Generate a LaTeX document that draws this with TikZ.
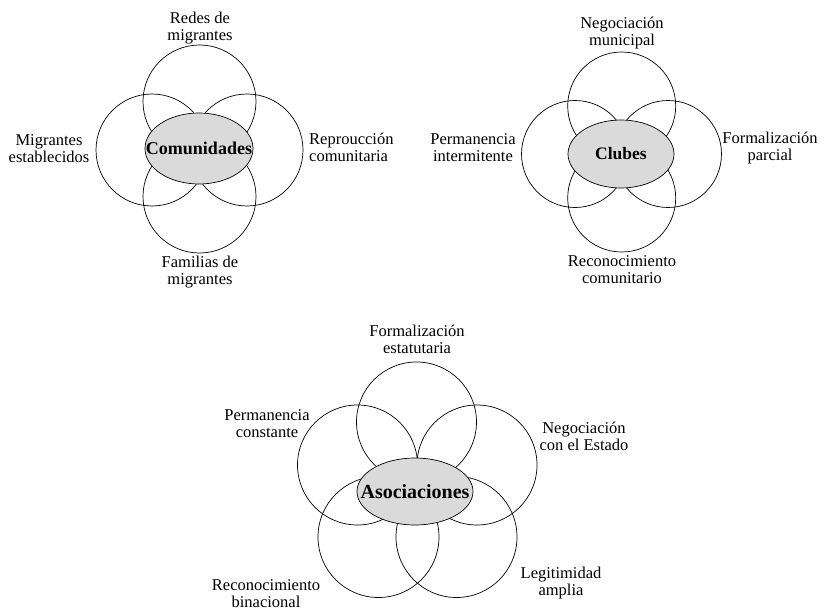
\documentclass[tikz,border=0pt]{standalone}
\usepackage{fontspec}
\setmainfont{Liberation Serif}
\usetikzlibrary{shapes.geometric}
\definecolor{ellgray}{HTML}{DADADA}
\tikzset{
  petal/.style={circle, draw=black, line width=0.7pt, inner sep=0pt},
  hub/.style={ellipse, draw=black, line width=0.7pt, fill=ellgray, inner sep=0pt},
  hubtext/.style={font=\bfseries, inner sep=0pt},
  lbl/.style={align=center, inner sep=0pt, font=\fontsize{16.5}{17}\selectfont},
  lbll/.style={align=left, inner sep=0pt, font=\fontsize{16.5}{17}\selectfont}
}
\begin{document}
\begin{tikzpicture}[x=1pt,y=-1pt]
\useasboundingbox (0,0) rectangle (825,610);
% ---------- Comunidades ----------
\node[petal, minimum size=113pt] (a1) at (199.5,101.5) {};
\node[petal, minimum size=112pt] (a2) at (152,150) {};
\node[petal, minimum size=112pt] (a3) at (247,150) {};
\node[petal, minimum size=113pt] (a4) at (199.5,196.5) {};
\node[hub, minimum width=108pt, minimum height=71pt] (ac) at (199,148.5) {};
\node[hubtext, font=\bfseries\fontsize{18}{20}\selectfont] (act) at (ac) {Comunidades};
\node[lbl] (al1) at (200,28) {Redes de\\migrantes};
\node[lbl] (al2) at (49,149) {Migrantes\\establecidos};
\node[lbll, anchor=west] (al3) at (309,147) {Reproucción\\comunitaria};
\node[lbl] (al4) at (200,272) {Familias de\\migrantes};
% ---------- Clubes ----------
\node[petal, minimum size=108pt] (b1) at (621.7,106) {};
\node[petal, minimum size=107pt] (b2) at (575,154) {};
\node[petal, minimum size=107pt] (b3) at (668,154) {};
\node[petal, minimum size=108pt] (b4) at (621.7,198) {};
\node[hub, minimum width=106pt, minimum height=68pt] (bc) at (621,154) {};
\node[hubtext, font=\bfseries\fontsize{17.5}{19}\selectfont] (bct) at (bc) {Clubes};
\node[lbl] (bl1) at (622,33) {Negociación\\municipal};
\node[lbl] (bl2) at (473,148) {Permanencia\\intermitente};
\node[lbl] (bl3) at (770,148) {Formalización\\parcial};
\node[lbl] (bl4) at (622,270) {Reconocimiento\\comunitario};
% ---------- Asociaciones ----------
\node[petal, minimum size=120pt] (c1) at (416.5,422) {};
\node[petal, minimum size=120pt] (c2) at (357.5,465) {};
\node[petal, minimum size=120pt] (c3) at (477,465) {};
\node[petal, minimum size=121pt] (c4) at (378.5,537) {};
\node[petal, minimum size=121pt] (c5) at (456.5,537) {};
\node[hub, minimum width=116pt, minimum height=67pt] (cc) at (415,491.5) {};
\node[hubtext, font=\bfseries\fontsize{20}{22}\selectfont] (cct) at (cc) {Asociaciones};
\node[lbl] (cl1) at (417,339) {Formalización\\estatutaria};
\node[lbl] (cl2) at (267,424) {Permanencia\\constante};
\node[lbl] (cl3) at (584,436) {Negociación\\con el Estado};
\node[lbl] (cl4) at (266,594) {Reconocimiento\\binacional};
\node[lbl] (cl5) at (561,583) {Legitimidad\\amplia};
\end{tikzpicture}
\end{document}
